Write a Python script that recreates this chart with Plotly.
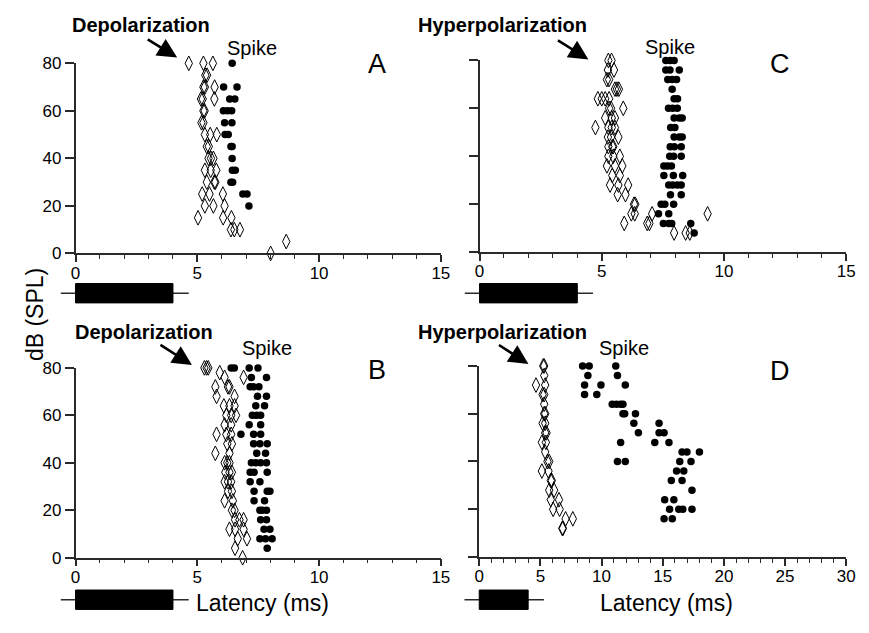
import plotly.graph_objects as go

# ---------------- data (latency in ms, level in dB SPL) ----------------
# Panel A : depolarization (open diamonds) and spike (filled circles)
A_DEP_MS = [4.65, 5.25, 5.64, 5.33, 5.40, 5.25, 5.31, 5.71, 5.15, 5.22, 5.70,
            5.25, 5.30, 5.17, 5.25, 5.31, 5.53, 5.80, 5.39, 5.47, 5.46, 5.56, 5.66,
            5.31, 5.55, 5.78, 5.39, 5.70, 5.74, 5.20, 5.50, 6.05, 5.31, 5.66, 6.12,
            5.03, 6.06, 6.40, 6.38, 6.52, 6.75, 8.65, 8.01]
A_DEP_DB = [80, 80, 80, 75, 75, 70, 70, 70, 65, 65, 65,
            60, 60, 55, 55, 50, 50, 50, 45, 45, 40, 40, 40,
            35, 35, 35, 30, 30, 30, 25, 25, 25, 20, 20, 20,
            15, 15, 15, 10, 10, 10, 5, 0]
A_SPK_MS = [6.43, 6.08, 6.63, 6.33, 6.54, 6.07, 6.24, 6.41, 6.12, 6.42, 6.14, 6.27,
            6.38, 6.43, 6.43, 6.44, 6.56, 6.38, 6.45, 6.87, 7.04, 7.12]
A_SPK_DB = [80, 70, 70, 65, 65, 60, 60, 60, 55, 55, 50, 50,
            45, 45, 40, 35, 35, 30, 30, 25, 25, 20]

# Panel C : hyperpolarization and spike
C_HYP_MS = [5.27, 5.40, 5.25, 5.50, 5.21, 5.30, 5.54, 5.62, 5.70, 4.84, 5.00, 5.14, 5.30,
            5.30, 5.38, 5.88, 5.14, 5.41, 5.54, 4.74, 5.27, 5.41, 5.54, 5.25, 5.38, 5.68,
            5.27, 5.43, 5.47, 5.27, 5.47, 5.74, 5.21, 5.54, 5.84, 5.43, 5.74,
            5.34, 5.68, 6.08, 5.65, 5.97, 6.32, 6.37, 6.21, 6.35, 7.06, 9.33,
            5.92, 6.86, 6.95, 7.96, 8.43, 8.60]
C_HYP_DB = [80, 80, 76, 76, 72, 72, 68, 68, 68, 64, 64, 64, 64,
            60, 60, 60, 56, 56, 56, 52, 52, 52, 52, 48, 48, 48,
            44, 44, 44, 40, 40, 40, 36, 36, 36, 32, 32,
            28, 28, 28, 24, 24, 20, 20, 16, 16, 16, 16,
            12, 12, 12, 8, 8, 8]
C_SPK_MS = [7.62, 7.80, 7.96, 7.62, 7.79, 8.17, 7.70, 7.88, 8.06, 7.88, 7.96, 8.10,
            7.73, 7.90, 8.09, 7.96, 8.17, 8.29, 7.82, 7.99, 7.96, 8.17, 8.29,
            7.80, 7.97, 8.25, 7.78, 7.94, 8.25, 7.54, 7.69, 7.85, 7.54, 7.93, 8.31,
            7.74, 7.90, 8.09, 8.25, 7.81, 8.25, 7.43, 7.58, 7.94, 7.32, 7.74,
            7.52, 7.74, 7.86, 8.64, 8.78]
C_SPK_DB = [80, 80, 80, 76, 76, 76, 72, 72, 72, 68, 64, 64,
            60, 60, 60, 56, 56, 56, 52, 52, 48, 48, 48,
            44, 44, 44, 40, 40, 40, 36, 36, 36, 32, 32, 32,
            28, 28, 28, 28, 24, 24, 20, 20, 20, 16, 16,
            12, 12, 12, 12, 8]

# Panel B : depolarization and spike
B_DEP_MS = [5.29, 5.38, 5.45, 5.92, 6.12, 6.90, 5.74, 6.26, 6.32, 5.79, 6.53,
            6.09, 6.32, 6.53, 6.19, 6.39, 6.59, 6.12, 6.39, 5.79, 6.19, 6.39,
            6.23, 6.42, 5.74, 6.32, 6.12, 6.23, 6.32, 6.15, 6.32, 6.42,
            6.12, 6.26, 6.39, 6.26, 6.42, 6.12, 6.46, 6.42, 6.53,
            6.55, 6.73, 6.90, 6.32, 6.55, 6.90, 6.66, 7.04, 6.55, 6.86]
B_DEP_DB = [80, 80, 80, 78, 76, 76, 72, 72, 72, 68, 68,
            64, 64, 64, 60, 60, 60, 56, 56, 52, 52, 52,
            48, 48, 44, 44, 40, 40, 40, 36, 36, 36,
            32, 32, 32, 28, 28, 24, 24, 20, 20,
            16, 16, 16, 12, 12, 12, 8, 8, 4, 0]
B_SPK_MS = [6.39, 6.52, 7.13, 7.49, 7.22, 7.84, 7.17, 7.31, 7.53, 7.47, 7.84,
            7.40, 7.76, 7.26, 7.44, 7.60, 7.13, 7.60, 6.79, 7.31, 7.60,
            7.31, 7.57, 7.87, 7.44, 7.80, 7.22, 7.40, 7.60, 7.84,
            7.17, 7.33, 7.87, 7.17, 7.57, 7.33, 7.87, 7.98, 7.33, 7.76,
            7.57, 7.67, 7.84, 7.60, 7.84, 7.74, 7.98, 7.57, 7.80, 8.07, 7.87]
B_SPK_DB = [80, 80, 80, 80, 76, 76, 72, 72, 72, 68, 68,
            64, 64, 60, 60, 60, 56, 56, 52, 52, 52,
            48, 48, 48, 44, 44, 40, 40, 40, 40,
            36, 36, 36, 32, 32, 28, 28, 28, 24, 24,
            20, 20, 20, 16, 16, 12, 12, 8, 8, 8, 4]

# Panel D : hyperpolarization and spike
D_HYP_MS = [5.23, 5.31, 5.31, 4.64, 5.39, 5.18, 5.31, 5.31, 5.31, 5.39, 5.18, 5.39,
            5.39, 5.50, 5.12, 5.45, 5.39, 5.58, 5.72, 5.12, 5.66, 5.85, 5.93,
            5.72, 6.12, 5.85, 6.52, 6.04, 6.57, 7.06, 7.65, 6.79, 6.84]
D_HYP_DB = [80, 80, 76, 72, 72, 68, 68, 64, 60, 60, 56, 56,
            52, 52, 48, 48, 44, 40, 40, 36, 36, 32, 32,
            28, 28, 24, 24, 20, 20, 16, 16, 12, 12]
D_SPK_MS = [8.45, 8.99, 11.16, 8.88, 11.30, 8.61, 9.95, 11.94, 8.61, 9.61,
            10.87, 11.22, 11.56, 11.75, 11.75, 11.89, 12.77, 12.64, 14.70,
            13.01, 14.70, 15.11, 11.56, 14.35, 15.51, 16.58, 16.98, 18.00,
            11.30, 11.94, 16.39, 17.31, 16.13, 16.72, 15.70, 16.58, 17.39,
            15.16, 15.91, 15.56, 16.31, 16.64, 17.39, 15.11, 15.78]
D_SPK_DB = [80, 80, 80, 76, 76, 72, 72, 72, 68, 68,
            64, 64, 64, 64, 60, 60, 60, 56, 56,
            52, 52, 52, 48, 48, 48, 44, 44, 44,
            40, 40, 40, 40, 36, 36, 32, 32, 28,
            24, 24, 20, 20, 20, 20, 16, 16]

STIM_MS = 4          # stimulus duration shown by the black bar
PANEL_LABELS = ["A", "C", "B", "D"]
X_RANGES = [[0, 15], [0, 15], [0, 15], [0, 30]]
Y_RANGE = [0, 80]

# ---------------- figure ----------------
W, H = 869, 633
def px(p):
    return p / W
def py(p):
    return 1 - p / H

AX = "#2a2a2a"
FONT = "Liberation Sans, Arial, sans-serif"

fig = go.Figure()

panels = [
    (A_DEP_MS, A_DEP_DB, A_SPK_MS, A_SPK_DB, "x", "y"),
    (C_HYP_MS, C_HYP_DB, C_SPK_MS, C_SPK_DB, "x2", "y2"),
    (B_DEP_MS, B_DEP_DB, B_SPK_MS, B_SPK_DB, "x3", "y3"),
    (D_HYP_MS, D_HYP_DB, D_SPK_MS, D_SPK_DB, "x4", "y4"),
]
for dms, ddb, sms, sdb, xa, ya in panels:
    fig.add_trace(go.Scatter(x=dms, y=ddb, mode="markers", xaxis=xa, yaxis=ya,
                             cliponaxis=False, showlegend=False,
                             marker=dict(symbol="diamond-tall-open", size=10.5,
                                         color="black", line=dict(width=1, color="black"))))
    fig.add_trace(go.Scatter(x=sms, y=sdb, mode="markers", xaxis=xa, yaxis=ya,
                             cliponaxis=False, showlegend=False,
                             marker=dict(symbol="circle", size=7.5, color="black",
                                         line=dict(width=0))))

x_domains = [[px(71.7), px(443)], [px(482.3), px(855)],
             [px(71.7), px(443)], [px(482.0), px(855)]]
y_domains = [[py(252), py(56)], [py(250.7), py(53)],
             [py(565.7), py(370)], [py(565), py(368)]]

layout = dict(width=W, height=H, margin=dict(l=0, r=0, t=0, b=0),
              paper_bgcolor="white", plot_bgcolor="white",
              font=dict(family=FONT, color="black"))
names = ["", "2", "3", "4"]
for i, n in enumerate(names):
    layout["xaxis" + n] = dict(
        domain=x_domains[i], anchor="y" + n, range=X_RANGES[i],
        showgrid=False, zeroline=False, showline=True, linecolor=AX, linewidth=1.5,
        ticks="outside", ticklen=7, tickwidth=1.5, tickcolor=AX, dtick=5, tick0=0,
        tickfont=dict(size=17, color="black"), ticklabelstandoff=-4,
        minor=dict(ticks="outside", dtick=1, ticklen=4, tickwidth=1, tickcolor=AX),
        fixedrange=True)
    layout["yaxis" + n] = dict(
        domain=y_domains[i], anchor="x" + n, range=Y_RANGE,
        showgrid=False, zeroline=False, showline=True, linecolor=AX, linewidth=1.5,
        ticks="outside", ticklen=9, tickwidth=1.5, tickcolor=AX, dtick=20, tick0=0,
        tickfont=dict(size=17, color="black"),
        showticklabels=(i in (0, 2)), fixedrange=True)
fig.update_layout(**layout)

def ms_to_paper(i, ms):
    d0, d1 = x_domains[i]
    r0, r1 = X_RANGES[i]
    return d0 + (ms - r0) / (r1 - r0) * (d1 - d0)

# stimulus bars
bar_rows = [(py(303), py(283), py(293)), (py(303), py(283), py(293)),
            (py(619), py(599), py(609)), (py(619), py(599), py(609))]
for i, n in enumerate(names):
    y0, y1, ym = bar_rows[i]
    x_on = ms_to_paper(i, 0)
    x_off = ms_to_paper(i, STIM_MS)
    fig.add_shape(type="line", xref="paper", yref="paper",
                  x0=x_on - px(15), x1=x_off + px(16), y0=ym, y1=ym,
                  line=dict(color=AX, width=1.5))
    fig.add_shape(type="rect", xref="paper", yref="paper", x0=x_on, x1=x_off, y0=y0, y1=y1,
                  fillcolor="black", line=dict(color="black", width=1))

def text(x, y, s, size, bold=False, xanchor="center", angle=0):
    fig.add_annotation(x=px(x), y=py(y), xref="paper", yref="paper",
                       text=("<b>%s</b>" % s) if bold else s, showarrow=False,
                       xanchor=xanchor, yanchor="middle", textangle=angle,
                       borderpad=0, font=dict(size=size, color="black", family=FONT))

text(67, 17, "Depolarization", 20, bold=True, xanchor="left")
text(419, 17, "Hyperpolarization", 20, bold=True, xanchor="left")
text(70, 333, "Depolarization", 20, bold=True, xanchor="left")
text(419, 333, "Hyperpolarization", 20, bold=True, xanchor="left")
text(251, 40, "Spike", 20)
text(676, 39, "Spike", 20)
text(266, 350, "Spike", 20)
text(629, 349, "Spike", 20)
for lab, (lx, ly) in zip(PANEL_LABELS, [(378, 57), (788, 57), (378, 372), (788, 373)]):
    text(lx, ly, lab, 27)
text(262, 612, "Latency (ms)", 23)
text(672, 612, "Latency (ms)", 23)
text(30, 315, "dB (SPL)", 23, angle=-90)

# arrows (head position in pixels, tail offset in pixels)
arrows = [(175, 50, -31, -19), (593, 52, -32, -20),
          (190, 367, -33, -21), (532, 366, -31, -20)]
for hx, hy, axo, ayo in arrows:
    fig.add_annotation(x=px(hx), y=py(hy), xref="paper", yref="paper", ax=axo, ay=ayo,
                       text="", showarrow=True, arrowhead=2, arrowsize=1.5, arrowwidth=2.6,
                       arrowcolor="black", standoff=0)

fig.write_html("out.html")
